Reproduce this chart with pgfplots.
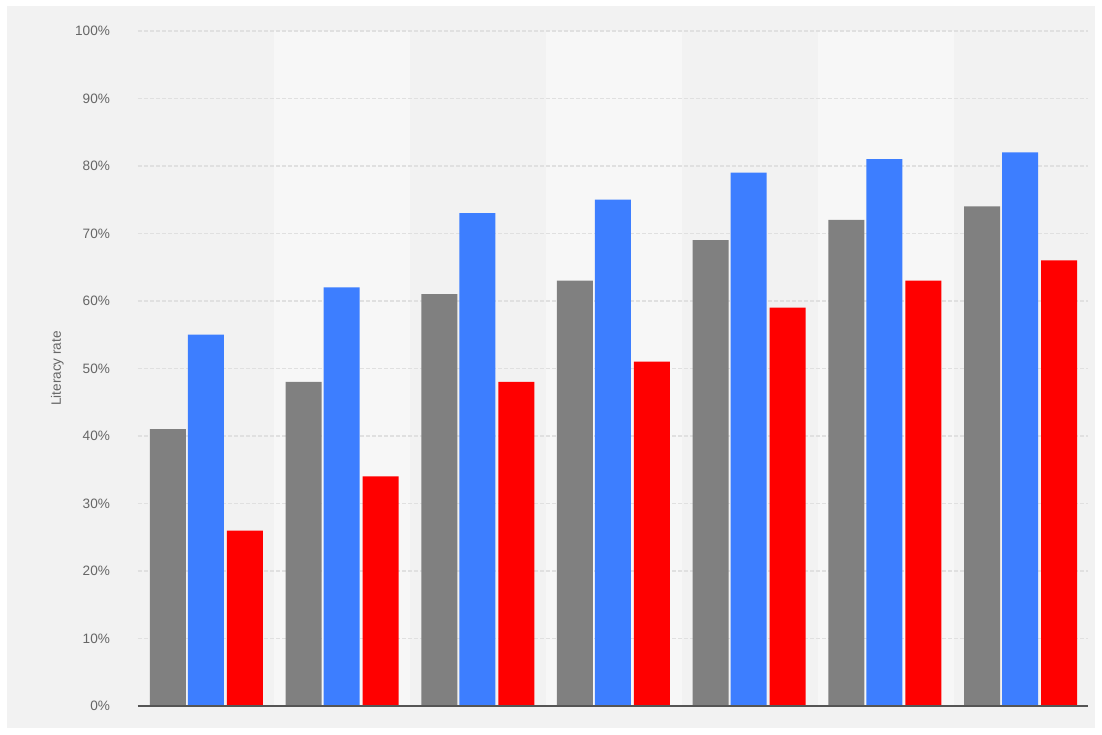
\documentclass[border=0pt]{standalone}
\usepackage{fontspec}
\setmainfont{Liberation Sans}
\usepackage{pgfplots}
\pgfplotsset{compat=1.18}
\definecolor{bg}{HTML}{F2F2F2}
\definecolor{band}{HTML}{F7F7F7}
\definecolor{gridc}{HTML}{E0E0E0}
\definecolor{txt}{HTML}{666666}
\definecolor{cgray}{HTML}{808080}
\definecolor{cblue}{HTML}{3D7EFF}
\definecolor{cred}{HTML}{FF0000}
\definecolor{axc}{HTML}{555555}
\begin{document}
\begin{tikzpicture}
\fill[white] (-69pt,-14pt) rectangle (482pt,353pt);
\fill[bg] (-65.5pt,-11pt) rectangle (478.5pt,350pt);
\foreach \k in {1,3,5} \fill[band] (\k*68pt,0pt) rectangle ({(\k+1)*68pt},337.5pt);
\begin{axis}[
  at={(0pt,0pt)}, anchor=south west,
  scale only axis, width=475pt, height=337.5pt,
  xmin=-0.5, xmax=6.5, ymin=0, ymax=100,
  xtick=\empty, ytick={0,10,...,100},
  ymajorgrids, grid style={gridc, dash pattern=on 2pt off 1pt, line width=0.6pt},
  axis line style={draw=none},
  major tick length=0pt,
  yticklabel={\pgfmathprintnumber{\tick}\%},
  /pgf/number format/assume math mode=true,
  yticklabel style={font=\fontsize{6.8}{8}\selectfont, text=txt, xshift=-10.5pt},
  ylabel={Literacy rate},
  ylabel style={font=\fontsize{6.8}{8}\selectfont, text=txt, at={(axis description cs:-0.085,0.5)}, anchor=center},
  clip=false,
]
\addplot[ybar, bar width=18pt, bar shift=-19pt, fill=cgray, draw=none] coordinates {(0,41) (1,48) (2,61) (3,63) (4,69) (5,72) (6,74)};
\addplot[ybar, bar width=18pt, bar shift=0pt, fill=cblue, draw=none] coordinates {(0,55) (1,62) (2,73) (3,75) (4,79) (5,81) (6,82)};
\addplot[ybar, bar width=18pt, bar shift=19.5pt, fill=cred, draw=none] coordinates {(0,26) (1,34) (2,48) (3,51) (4,59) (5,63) (6,66)};
\draw[axc, line width=1pt] (axis cs:-0.5,0) -- (axis cs:6.5,0);
\end{axis}
\end{tikzpicture}
\end{document}
